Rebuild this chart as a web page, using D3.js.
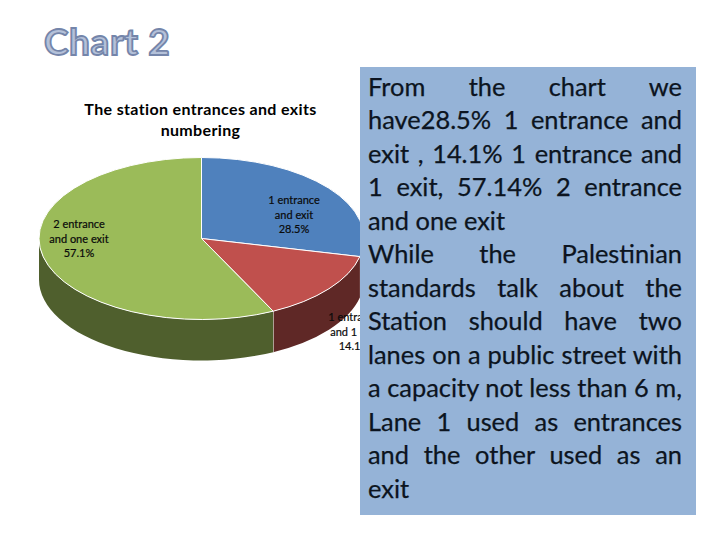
<!DOCTYPE html>
<html><head><meta charset="utf-8">
<script src="https://cdn.jsdelivr.net/npm/d3@7/dist/d3.min.js"></script>
<style>
html,body{margin:0;padding:0;background:#fff;width:720px;height:540px;overflow:hidden}
svg{position:absolute;left:0;top:0}
#box{position:absolute;left:360px;top:67px;width:336px;height:448px;background:#95b3d7;box-sizing:border-box;padding:2.7px 14px 0 8px;font-family:Lato,"Open Sans",sans-serif;font-size:25.4px;color:#0c1420;-webkit-text-stroke:0.25px #0c1420}
#box div{height:33.5px;line-height:33.5px;white-space:nowrap;text-align:justify;text-align-last:justify}
#box div.last{text-align-last:left}
</style></head><body>
<svg id="chart" width="720" height="540"></svg>
<div id="box"></div>
<script>
const heading = "Chart 2";
const chartTitle = ["The station entrances and exits", "numbering"];
const categories = ["1 entrance and exit", "1 entrance and 1 exit", "2 entrance and one exit"];
const values = [28.5, 14.1, 57.1];
const labelLines = [["1 entrance", "and exit", "28.5%"], ["1 entrance", "and 1 exit", "14.1%"], ["2 entrance", "and one exit", "57.1%"]];
const topColors = ["#4f81bd", "#c0504d", "#9bbb59"];
const sideColors = ["#2f4d71", "#5f2826", "#4f5f2d"];
const paragraph = [
 "From the chart we",
 "have28.5% 1 entrance and",
 "exit , 14.1% 1 entrance and",
 "1 exit, 57.14% 2 entrance",
 "and one exit",
 "While the Palestinian",
 "standards talk about the",
 "Station should have two",
 "lanes on a public street with",
 "a capacity not less than 6 m,",
 "Lane 1 used as entrances",
 "and the other used as an",
 "exit"
];

const cx = 201.5, cy = 238.5, rx = 162.5, ry = 81, depth = 41;
const svg = d3.select("#chart");
const font = "Lato, 'Open Sans', sans-serif";

svg.append("text").attr("x", 44).attr("y", 55).text(heading)
  .attr("font-family", font).attr("font-size", 37).attr("font-weight", 700)
  .attr("letter-spacing", 0.6)
  .attr("fill", "#b4c1d9").attr("stroke", "#7485aa").attr("stroke-width", 1.8);

svg.append("g").selectAll("text").data(chartTitle).join("text")
  .attr("x", 200.5).attr("y", (d, i) => 115 + i * 21).attr("text-anchor", "middle")
  .attr("font-family", font).attr("font-size", 16).attr("font-weight", 700)
  .attr("letter-spacing", 0.35)
  .attr("fill", "#000").text(d => d);

const arcs = d3.pie().sort(null).value(d => d)(values);
const sy = ry / rx;
const pt = a => [cx + rx * Math.sin(a), cy - ry * Math.cos(a)];

const side = svg.append("g");
arcs.forEach((a, i) => {
  const s = Math.max(a.startAngle, Math.PI / 2), e = Math.min(a.endAngle, 3 * Math.PI / 2);
  if (e <= s) return;
  const [x0, y0] = pt(s), [x1, y1] = pt(e);
  const large = e - s > Math.PI ? 1 : 0;
  side.append("path")
    .attr("d", `M${x0},${y0}A${rx},${ry} 0 ${large} 1 ${x1},${y1}L${x1},${y1 + depth}A${rx},${ry} 0 ${large} 0 ${x0},${y0 + depth}Z`)
    .attr("fill", sideColors[i]);
  if (i === 1) side.append("line").attr("x1", x1).attr("y1", y1).attr("x2", x1).attr("y2", y1 + depth)
    .attr("stroke", "#fff").attr("stroke-width", 0.8);
});
const arcGen = d3.arc().innerRadius(0).outerRadius(rx);
svg.append("g").attr("transform", `translate(${cx},${cy}) scale(1,${sy})`)
  .selectAll("path").data(arcs).join("path")
  .attr("d", arcGen).attr("fill", (d, i) => topColors[i])
  .attr("stroke", "#fff").attr("stroke-width", 1).attr("vector-effect", "non-scaling-stroke");

const labelPos = [[294, 204], [354, 321], [79, 228]];
const labels = svg.append("g").attr("font-family", font).attr("font-size", 11).attr("fill", "#0a0a0a").attr("text-anchor", "middle")
  .attr("stroke", "#0a0a0a").attr("stroke-width", 0.2);
labelLines.forEach((lines, i) => {
  labels.selectAll(null).data(lines).join("text")
    .attr("x", labelPos[i][0]).attr("y", (d, j) => labelPos[i][1] + j * 14.5).text(d => d);
});

d3.select("#box").selectAll("div").data(paragraph).join("div")
  .attr("class", (d, i) => i === paragraph.length - 1 || i === 4 ? "last" : null).text(d => d);
</script>
</body></html>
